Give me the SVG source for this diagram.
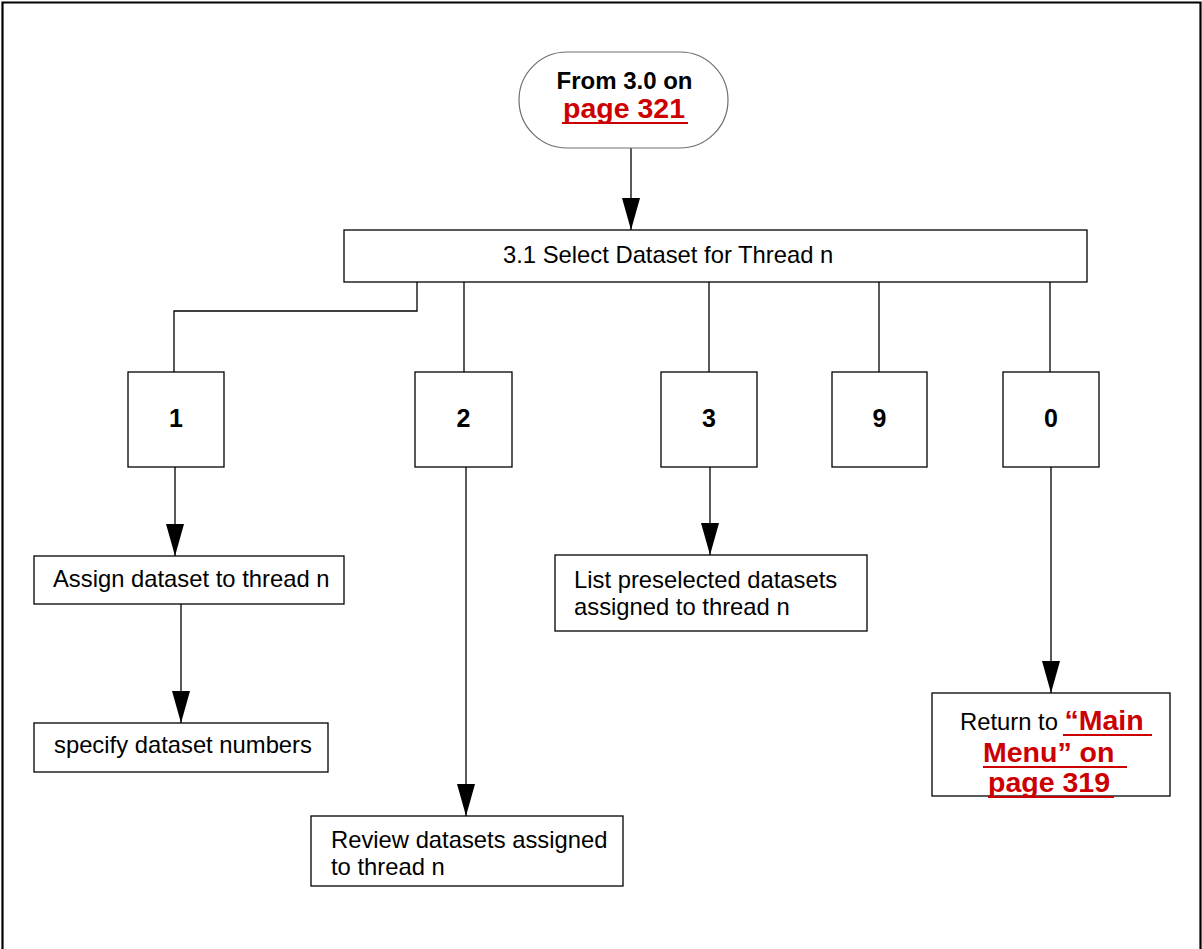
<svg xmlns="http://www.w3.org/2000/svg" width="1202" height="949" viewBox="0 0 1202 949">
  <style>
    .box { fill: #ffffff; stroke: #000000; stroke-width: 1.3; }
    .term { fill: #ffffff; stroke: #6e6e6e; stroke-width: 1.2; }
    .wire { fill: none; stroke: #000000; stroke-width: 1.3; }
    .frame { fill: none; stroke: #000000; stroke-width: 2.2; }
    .txt { font-family: "Liberation Sans", Arial, sans-serif; font-size: 23.8px; fill: #000000; }
    .bold { font-family: "Liberation Sans", Arial, sans-serif; font-size: 24px; font-weight: bold; fill: #000000; }
    .num { font-family: "Liberation Sans", Arial, sans-serif; font-size: 25px; font-weight: bold; fill: #000000; }
    .link { font-family: "Liberation Sans", Arial, sans-serif; font-size: 28.5px; font-weight: bold; fill: #cc0000; }
    .uline { stroke: #cc0000; stroke-width: 2.2; }
  </style>
  <defs>
    <marker id="arrow" markerUnits="userSpaceOnUse" viewBox="0 0 32 18" markerWidth="32" markerHeight="18" refX="32" refY="9" orient="auto">
      <path d="M0,0 L32,9 L0,18 Z" fill="#000000"/>
    </marker>
  </defs>

  <rect width="1202" height="949" fill="#ffffff"/>
  <!-- page frame (open at the bottom) -->
  <path class="frame" d="M2.5,949 V2.5 H1200.5 V949"/>

  <!-- connectors -->
  <g id="connectors">
    <path class="wire" d="M631,148 V230" marker-end="url(#arrow)"/>
    <path class="wire" d="M417,282 V311 H174 V372"/>
    <path class="wire" d="M464,282 V372"/>
    <path class="wire" d="M709,282 V372"/>
    <path class="wire" d="M879,282 V372"/>
    <path class="wire" d="M1050,282 V372"/>
    <path class="wire" d="M175,467 V556" marker-end="url(#arrow)"/>
    <path class="wire" d="M181,604 V723" marker-end="url(#arrow)"/>
    <path class="wire" d="M466,467 V816" marker-end="url(#arrow)"/>
    <path class="wire" d="M710,467 V555" marker-end="url(#arrow)"/>
    <path class="wire" d="M1051,467 V693" marker-end="url(#arrow)"/>
  </g>

  <g id="start">
    <rect class="term" x="519" y="52" width="209" height="96" rx="48" ry="48"/>
    <text class="bold" x="624.5" y="89" text-anchor="middle">From 3.0 on</text>
    <text class="link" x="624" y="118" text-anchor="middle">page 321</text>
    <line class="uline" x1="562" y1="123" x2="688" y2="123"/>
  </g>

  <g id="select-dataset">
    <rect class="box" x="344" y="230" width="743" height="52"/>
    <text class="txt" x="503" y="263">3.1 Select Dataset for Thread n</text>
  </g>

  <g id="opt-1">
    <rect class="box" x="128" y="372" width="96" height="95"/>
    <text class="num" x="176" y="427" text-anchor="middle">1</text>
  </g>
  <g id="opt-2">
    <rect class="box" x="415" y="372" width="97" height="95"/>
    <text class="num" x="463.5" y="427" text-anchor="middle">2</text>
  </g>
  <g id="opt-3">
    <rect class="box" x="661" y="372" width="96" height="95"/>
    <text class="num" x="709" y="427" text-anchor="middle">3</text>
  </g>
  <g id="opt-9">
    <rect class="box" x="832" y="372" width="95" height="95"/>
    <text class="num" x="879.5" y="427" text-anchor="middle">9</text>
  </g>
  <g id="opt-0">
    <rect class="box" x="1003" y="372" width="96" height="95"/>
    <text class="num" x="1051" y="427" text-anchor="middle">0</text>
  </g>

  <g id="assign">
    <rect class="box" x="34" y="556" width="310" height="48"/>
    <text class="txt" x="53" y="587">Assign dataset to thread n</text>
  </g>

  <g id="specify">
    <rect class="box" x="34" y="723" width="294" height="49"/>
    <text class="txt" x="54" y="753">specify dataset numbers</text>
  </g>

  <g id="review">
    <rect class="box" x="311" y="816" width="312" height="70"/>
    <text class="txt" x="331" y="848">Review datasets assigned</text>
    <text class="txt" x="331" y="875">to thread n</text>
  </g>

  <g id="list">
    <rect class="box" x="555" y="555" width="312" height="76"/>
    <text class="txt" x="574" y="588">List preselected datasets</text>
    <text class="txt" x="574" y="615">assigned to thread n</text>
  </g>

  <g id="return">
    <rect class="box" x="932" y="693" width="238" height="103"/>
    <text class="txt" x="960" y="730">Return to <tspan class="link">“Main</tspan></text>
    <text class="link" x="983" y="762">Menu” on</text>
    <text class="link" x="988" y="792">page 319</text>
    <line class="uline" x1="1063" y1="735" x2="1152" y2="735"/>
    <line class="uline" x1="983" y1="767" x2="1127" y2="767"/>
    <line class="uline" x1="988" y1="797" x2="1114" y2="797"/>
  </g>
</svg>
